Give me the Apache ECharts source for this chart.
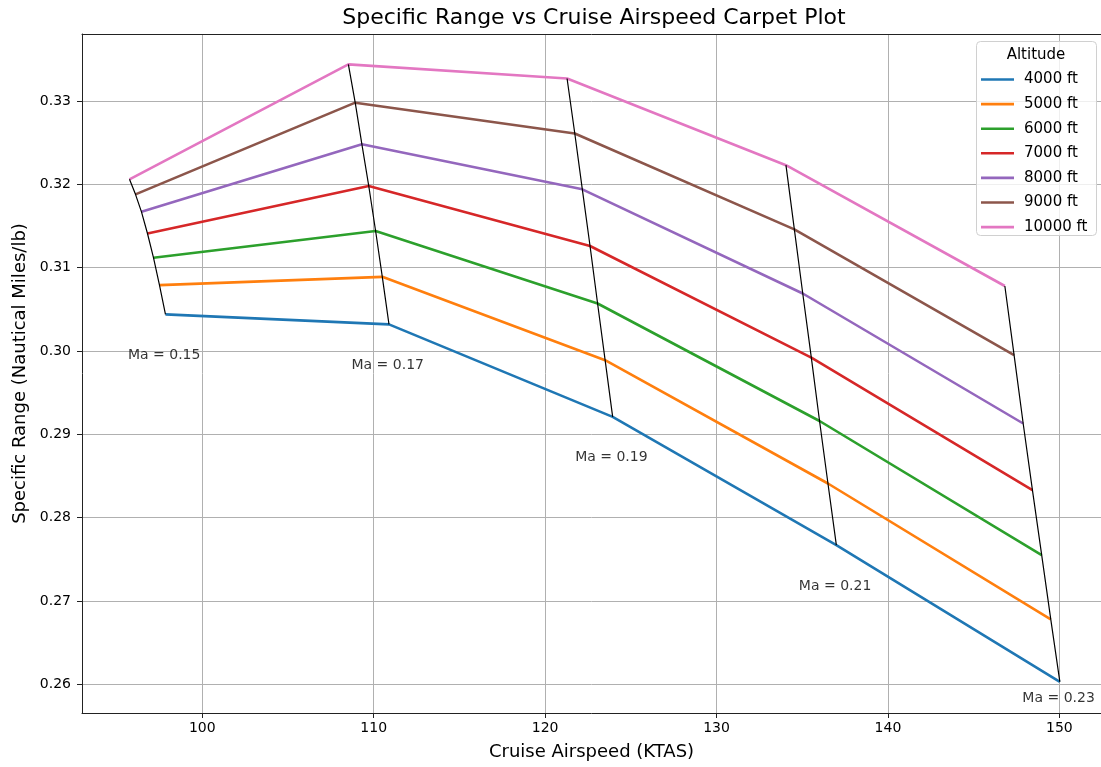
<!DOCTYPE html>
<html>
<head>
<meta charset="utf-8">
<title>Specific Range vs Cruise Airspeed Carpet Plot</title>
<script src="https://cdn.jsdelivr.net/npm/echarts@6/dist/echarts.min.js"></script>
<style>
  html, body { margin: 0; padding: 0; background: #fff; }
  #chart { width: 1101px; height: 767px; }
</style>
</head>
<body>
<div id="chart"></div>
<script>
// Altitude curves (one per altitude) and Mach grid lines of the carpet plot
const altitudes = ['4000 ft', '5000 ft', '6000 ft', '7000 ft', '8000 ft', '9000 ft', '10000 ft'];
const machNumbers = [0.15, 0.17, 0.19, 0.21, 0.23];

// True airspeed (KTAS) at each Mach number, per altitude
const airspeed4000  = [97.85, 110.89, 123.94, 136.99, 150.03];
const airspeed5000  = [97.50, 110.50, 123.50, 136.50, 149.50];
const airspeed6000  = [97.15, 110.11, 123.06, 136.01, 148.97];
const airspeed7000  = [96.80, 109.71, 122.62, 135.53, 148.43];
const airspeed8000  = [96.45, 109.31, 122.17, 135.03, 147.89];
const airspeed9000  = [96.10, 108.92, 121.73, 134.54, 147.36];
const airspeed10000 = [95.75, 108.52, 121.28, 134.05, 146.82];

// Specific range (nautical miles per lb) at each Mach number, per altitude
const range4000  = [0.3044, 0.3032, 0.2921, 0.2767, 0.2603];
const range5000  = [0.3079, 0.3089, 0.2989, 0.2841, 0.2678];
const range6000  = [0.3112, 0.3144, 0.3057, 0.2916, 0.2755];
const range7000  = [0.3141, 0.3198, 0.3126, 0.2992, 0.2833];
const range8000  = [0.3167, 0.3248, 0.3194, 0.3069, 0.2913];
const range9000  = [0.3188, 0.3298, 0.3261, 0.3146, 0.2995];
const range10000 = [0.3206, 0.3344, 0.3327, 0.3223, 0.3078];

const xTicks = [100, 110, 120, 130, 140, 150];
const yTicks = [0.26, 0.27, 0.28, 0.29, 0.30, 0.31, 0.32, 0.33];

const airspeedByAltitude = [airspeed4000, airspeed5000, airspeed6000, airspeed7000, airspeed8000, airspeed9000, airspeed10000];
const rangeByAltitude = [range4000, range5000, range6000, range7000, range8000, range9000, range10000];

const palette = ['#1f77b4', '#ff7f0e', '#2ca02c', '#d62728', '#9467bd', '#8c564b', '#e377c2'];
const FONT = 'DejaVu Sans';
const X_MIN = 92.98, X_MAX = 152.43;

const chart = echarts.init(document.getElementById('chart'), null, { renderer: 'canvas' });

const altitudeSeries = altitudes.map((name, a) => ({
  name: name,
  type: 'line',
  symbol: 'none',
  z: 2,
  color: palette[a],
  lineStyle: { width: 2.6, color: palette[a] },
  data: airspeedByAltitude[a].map((v, i) => [v, rangeByAltitude[a][i]])
}));

const machSeries = machNumbers.map((m, i) => ({
  name: 'Ma ' + m,
  type: 'line',
  symbol: 'none',
  z: 3,
  lineStyle: { width: 1.2, color: '#000' },
  data: altitudes.map((_, a) => [airspeedByAltitude[a][i], rangeByAltitude[a][i]])
}));

// Mach labels hang below the lowest-altitude end of each Mach line
const machLabelSeries = {
  name: 'Mach labels',
  type: 'scatter',
  symbolSize: 1,
  z: 4,
  silent: true,
  itemStyle: { color: 'rgba(0,0,0,0)' },
  label: {
    show: true,
    align: 'left',
    verticalAlign: 'middle',
    fontFamily: FONT,
    fontSize: 14,
    color: '#000'
  },
  data: machNumbers.map((m, i) => ({
    value: [airspeed4000[i], range4000[i]],
    label: {
      formatter: 'Ma = ' + m.toFixed(2),
      position: [-37, i === machNumbers.length - 1 ? 17 : 41.5]
    }
  }))
};

const option = {
  animation: false,
  backgroundColor: '#fff',
  textStyle: { fontFamily: FONT },
  grid: { left: 82, top: 34, right: 0, height: 679 },
  xAxis: [
    {
      type: 'value',
      min: X_MIN, max: X_MAX,
      name: 'Cruise Airspeed (KTAS)',
      nameLocation: 'middle',
      nameGap: 30,
      nameTextStyle: { fontFamily: FONT, fontSize: 18, color: '#000' },
      axisLine: { show: true, lineStyle: { color: '#222', width: 1 } },
      axisTick: { show: true, length: 5, customValues: xTicks, lineStyle: { color: '#222', width: 1 } },
      axisLabel: { customValues: xTicks, fontFamily: FONT, fontSize: 14, color: '#000', margin: 8 },
      splitLine: { show: true, lineStyle: { color: '#b0b0b0', width: 1 } }
    },
    {
      // top frame line of the plot area
      type: 'value',
      position: 'top',
      min: X_MIN, max: X_MAX,
      axisLine: { show: true, lineStyle: { color: '#222', width: 1 } },
      axisTick: { show: false },
      axisLabel: { show: false },
      splitLine: { show: false }
    }
  ],
  yAxis: {
    type: 'value',
    min: 0.25656, max: 0.33804,
    name: 'Specific Range (Nautical Miles/lb)',
    nameLocation: 'middle',
    nameGap: 53,
    nameTextStyle: { fontFamily: FONT, fontSize: 18, color: '#000' },
    axisLine: { show: true, lineStyle: { color: '#222', width: 1 } },
    axisTick: { show: true, length: 5, customValues: yTicks, lineStyle: { color: '#222', width: 1 } },
    axisLabel: {
      customValues: yTicks, fontFamily: FONT, fontSize: 14, color: '#000', margin: 11,
      formatter: v => v.toFixed(2)
    },
    splitLine: { show: true, lineStyle: { color: '#b0b0b0', width: 1 } }
  },
  legend: {
    data: altitudes,
    orient: 'vertical',
    left: 981,
    top: 72,
    padding: 0,
    icon: 'path://M0,0 H33 V2.6 H0 Z',
    itemWidth: 33,
    itemHeight: 14,
    itemGap: 9.6,
    z: 10,
    textStyle: { fontFamily: FONT, fontSize: 15, color: '#000', lineHeight: 14, padding: [0, 0, 0, 5] }
  },
  graphic: [
    {
      type: 'text', x: 594, y: 18, z: 10,
      style: {
        text: 'Specific Range vs Cruise Airspeed Carpet Plot',
        font: '22px "DejaVu Sans"', fill: '#000', align: 'center', verticalAlign: 'middle'
      }
    },
    {
      type: 'rect', z: 8,
      shape: { x: 976.5, y: 41.5, width: 120, height: 194, r: 4 },
      style: { fill: 'rgba(255,255,255,0.8)', stroke: '#d0d0d0', lineWidth: 1 }
    },
    {
      type: 'text', x: 1036, y: 55, z: 10,
      style: {
        text: 'Altitude', font: '15px "DejaVu Sans"', fill: '#000',
        align: 'center', verticalAlign: 'middle'
      }
    }
  ],
  series: [...altitudeSeries, ...machSeries, machLabelSeries]
};

chart.setOption(option);
</script>
</body>
</html>
